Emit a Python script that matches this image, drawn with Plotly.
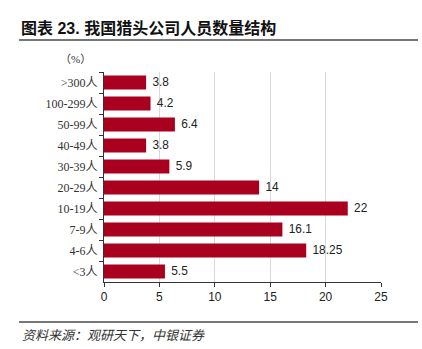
import plotly.graph_objects as go

categories = [">300人", "100-299人", "50-99人", "40-49人", "30-39人",
              "20-29人", "10-19人", "7-9人", "4-6人", "<3人"]
values = [3.8, 4.2, 6.4, 3.8, 5.9, 14, 22, 16.1, 18.25, 5.5]
value_labels = ["3.8", "4.2", "6.4", "3.8", "5.9", "14", "22", "16.1", "18.25", "5.5"]
x_ticks = [0, 5, 10, 15, 20, 25]

L, R, T, B = 104, 41, 72, 67
W, H = 422, 349
pw, ph = W - L - R, H - T - B

def px_x(p):
    return (p - L) / pw

def px_y(p):
    return (H - B - p) / ph

fig = go.Figure(go.Bar(
    x=values, y=categories, orientation="h",
    marker=dict(color="#A8001E", line=dict(width=0)),
    width=0.66,
    text=[" " + t for t in value_labels], textposition="outside",
    textfont=dict(family="Liberation Sans, Arial", size=12, color="#222"),
    cliponaxis=False,
))

fig.update_layout(
    width=W, height=H,
    margin=dict(l=L, r=R, t=T, b=B),
    paper_bgcolor="white", plot_bgcolor="white",
    showlegend=False,
    bargap=0.34,
)
fig.update_xaxes(
    range=[0, 25], tickvals=x_ticks, showgrid=True, gridcolor="#d9d9d9", gridwidth=1,
    showline=True, linecolor="#333", linewidth=1,
    ticks="outside", ticklen=4, tickcolor="#333",
    tickfont=dict(family="Liberation Sans, Arial", size=12, color="#222"),
    zeroline=False,
)
fig.update_yaxes(
    autorange="reversed", showline=True, linecolor="#333", linewidth=1,
    ticks="outside", ticklen=4, tickcolor="#333", tickson="boundaries",
    tickfont=dict(family="Liberation Serif, Noto Sans CJK SC", size=12, color="#333"),
    showgrid=False, ticksuffix=" ",
)

fig.add_annotation(
    x=px_x(19), y=px_y(28), xref="paper", yref="paper", xanchor="left", yanchor="middle",
    text="<b>图表 23. 我国猎头公司人员数量结构</b>", showarrow=False,
    font=dict(family="Liberation Sans, Noto Sans CJK SC", size=16, color="#111"),
)
fig.add_annotation(
    x=px_x(58), y=px_y(59), xref="paper", yref="paper", xanchor="left", yanchor="middle",
    text="（%）", showarrow=False,
    font=dict(family="Liberation Serif, Noto Sans CJK SC", size=11, color="#333"),
)
fig.add_annotation(
    x=px_x(20), y=px_y(334), xref="paper", yref="paper", xanchor="left", yanchor="middle",
    text="<i>资料来源：观研天下，中银证券</i>", showarrow=False,
    font=dict(family="Noto Sans CJK SC", size=13, color="#333"),
)
for yy in (40, 322):
    fig.add_shape(type="line", xref="paper", yref="paper",
                  x0=px_x(19), x1=px_x(418), y0=px_y(yy), y1=px_y(yy),
                  line=dict(color="#777", width=2))

fig.write_html("out.html")
